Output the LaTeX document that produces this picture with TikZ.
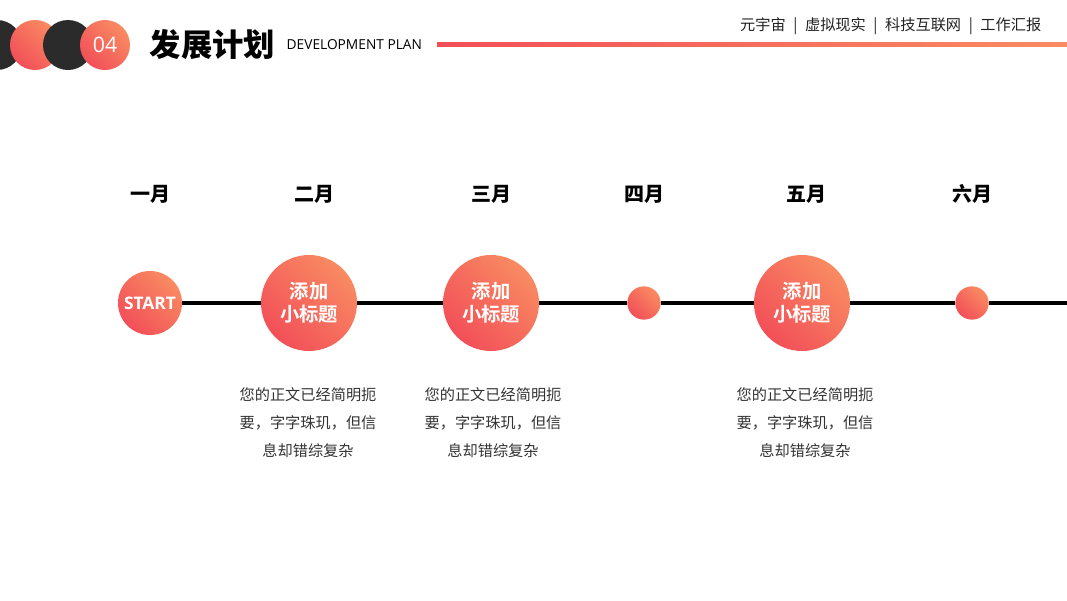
\documentclass[tikz,border=0pt]{standalone}
\usepackage{fontspec}
\usepackage{tikz}
\usetikzlibrary{positioning}
\setmainfont{Open Sans}
\newfontfamily\cjk{Noto Sans CJK SC}[BoldFont={Noto Sans CJK SC Bold}]
\newfontfamily\cjkheavy{Noto Sans CJK SC Black}
\definecolor{pred}{HTML}{F24F58}
\definecolor{porange}{HTML}{F98B62}
\definecolor{pdark}{HTML}{2B2B2B}
\definecolor{ptext}{HTML}{333333}
\definecolor{pgray}{HTML}{222222}

\tikzset{
  pdot/.style={circle, inner sep=0pt, left color=pred, right color=porange, shading angle=135},
  bigdot/.style={pdot, minimum size=72pt, text=white, align=center,
    font=\cjk\bfseries\fontsize{14.5pt}{17.5pt}\selectfont},
  smalldot/.style={pdot, minimum size=25pt},
  monthlab/.style={font=\cjkheavy\fontsize{15pt}{18pt}\selectfont, text=black},
  desc/.style={align=center, text=ptext, font=\cjk\fontsize{11.4pt}{21pt}\selectfont},
  timeline/.style={black, line width=3pt}
}

\begin{document}
\begin{tikzpicture}[x=0.75pt, y=-0.75pt]
  \useasboundingbox (0,0) rectangle (1067,600);

  %% Header
  \fill[pdark] (-3,45) circle (25);
  \shade[left color=pred, right color=porange, shading angle=135] (35,45) circle (25);
  \fill[pdark] (68,45) circle (25);
  \node[pdot, minimum size=37.5pt, text=white, font=\fontsize{16pt}{18pt}\selectfont]
    (num) at (105,45) {04};
  \node[font=\cjkheavy\fontsize{23.5pt}{26pt}\selectfont, anchor=west] (title) at (145,45) {发展计划};
  \node[font=\fontsize{10.3pt}{12pt}\selectfont, anchor=west, text=black] (subtitle) at (282,45) {DEVELOPMENT PLAN};
  \shade[left color=pred, right color=porange] (437,42.5) rectangle (1067,46.5);
  \node[font=\cjk\fontsize{11.4pt}{14pt}\selectfont, text=pgray, anchor=east] (tags) at (1046,26)
    {元宇宙\enspace|\enspace 虚拟现实\enspace|\enspace 科技互联网\enspace|\enspace 工作汇报};

  %% Month labels
  \foreach \x/\lab/\n in {150/一月/1, 314/二月/2, 491/三月/3, 644/四月/4, 806/五月/5, 972/六月/6} {
    \node[monthlab] (lab\n) at (\x,194) {\lab};
  }

  %% Timeline stops
  \node[pdot, minimum size=48pt, text=white, font=\bfseries\fontsize{13pt}{15pt}\selectfont]
    (start) at (150,303) {START};
  \node[bigdot] (m2) at (309,303) {添加\\小标题};
  \node[bigdot] (m3) at (491,303) {添加\\小标题};
  \node[smalldot] (m4) at (644,303) {};
  \node[bigdot] (m5) at (802,303) {添加\\小标题};
  \node[smalldot] (m6) at (972,303) {};
  \coordinate (tlend) at (1070,303);

  \draw[timeline] (start) -- (m2) -- (m3) -- (m4) -- (m5) -- (m6) -- (tlend);

  %% Descriptions
  \foreach \x/\n in {308/2, 493/3, 805/5} {
    \node[desc] (desc\n) at (\x,423) {您的正文已经简明扼\\要，字字珠玑，但信\\息却错综复杂};
  }

\end{tikzpicture}
\end{document}
